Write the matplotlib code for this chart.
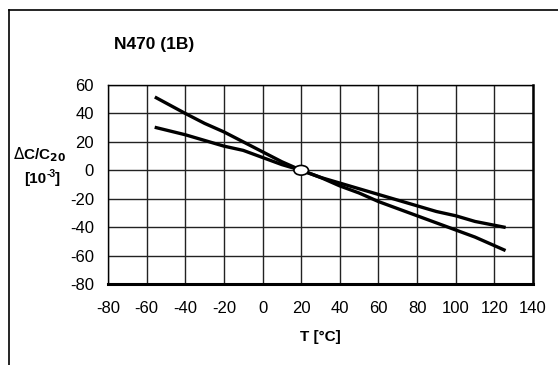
import numpy as np
import matplotlib.pyplot as plt
from matplotlib.lines import Line2D
from matplotlib.patches import Ellipse

# temperature (degC) and dC/C20 (1e-3)
temp = [-55, -40, -30, -20, -10, 0, 10, 20, 30, 40, 50, 60, 70, 80, 90, 100, 110, 125]
upper = [51, 40, 33, 27, 20, 13, 6, 0, -5, -11, -16, -22, -27, -32, -37, -42, -47, -56]
lower = [30, 25, 21, 17, 14, 9, 4, 0, -5, -9, -13, -17, -21, -25, -29, -32, -36, -40]
ref_t, ref_c = 20, 0

xticks = list(range(-80, 141, 20))
yticks = list(range(-80, 61, 20))

plt.rcParams['font.family'] = ['Liberation Sans', 'DejaVu Sans']

fig = plt.figure(figsize=(5.58, 3.65), dpi=100)
ax = fig.add_axes([108 / 558, 1 - 284 / 365, 425 / 558, 199 / 365])

ax.plot(temp, upper, color='black', lw=2.4, zorder=3)
ax.plot(temp, lower, color='black', lw=2.4, zorder=3)
ax.add_patch(Ellipse((ref_t, ref_c), 7.5, 6.8, facecolor='white',
                     edgecolor='black', lw=1.2, zorder=4))

ax.set_xlim(-80, 140)
ax.set_ylim(-80, 60)
ax.set_xticks(xticks)
ax.set_yticks(yticks)
ax.grid(True, color='#222222', lw=1.0)
ax.tick_params(length=0, labelsize=12)
ax.tick_params(axis='x', pad=12)
ax.tick_params(axis='y', pad=10)
ax.set_xticklabels([str(v) for v in xticks])
ax.set_yticklabels([str(v) for v in yticks])
for s in ax.spines.values():
    s.set_linewidth(1.0)
ax.spines['bottom'].set_linewidth(2.2)
ax.spines['right'].set_linewidth(1.8)

fig.text(154 / 558, 1 - 44 / 365, 'N470 (1B)', ha='center', va='center',
         fontsize=12.5, fontweight='bold')
fig.text(40 / 558, 1 - 155 / 365, r'$\Delta$C/C$_{\mathbf{20}}$', ha='center', va='center',
         fontsize=11, fontweight='bold')
# "[10^-3]" built from pieces to keep a plain hyphen in the exponent
fig.text(24 / 558, 1 - 179 / 365, '[10', ha='left', va='center', fontsize=11, fontweight='bold')
fig.text(47 / 558, 1 - 174 / 365, '-3', ha='left', va='center', fontsize=7.5, fontweight='bold')
fig.text(55 / 558, 1 - 179 / 365, ']', ha='left', va='center', fontsize=11, fontweight='bold')
fig.text(320 / 558, 1 - 337 / 365, 'T [°C]', ha='center', va='center',
         fontsize=11, fontweight='bold')

# outer frame (top and left edges only visible)
fig.add_artist(Line2D([9 / 558, 9 / 558], [0, 1 - 10 / 365], color='black', lw=1.2))
fig.add_artist(Line2D([9 / 558, 1], [1 - 10 / 365, 1 - 10 / 365], color='black', lw=1.2))

fig.savefig('out.png', dpi=100)
